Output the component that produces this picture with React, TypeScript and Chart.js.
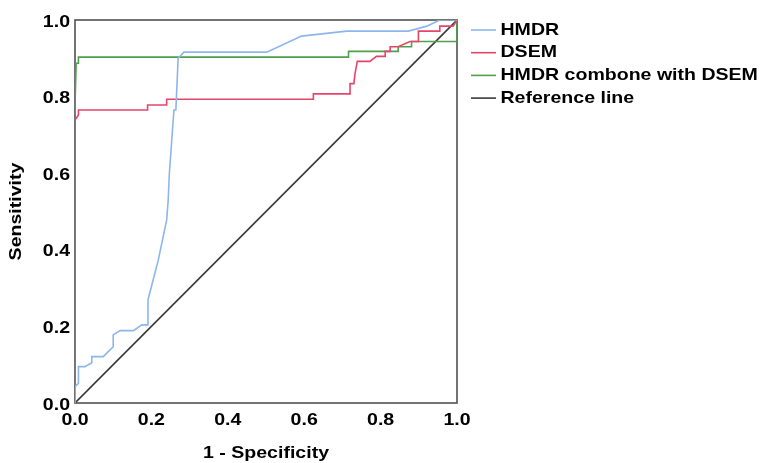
import React, { useEffect, useRef } from "react";
import { Chart, registerables } from "chart.js";

Chart.register(...registerables);

// ---- data ----
const seriesLabels = ["HMDR", "DSEM", "HMDR combone with DSEM", "Reference line"];
const seriesColors = ["#8db6ee", "#e6456a", "#4f9f4f", "#3a3a3a"];

const hmdrX = [0, 0, 0.009, 0.009, 0.026, 0.044, 0.044, 0.074, 0.087, 0.1, 0.1, 0.118, 0.153, 0.175, 0.19, 0.191, 0.218, 0.24, 0.244, 0.247, 0.259, 0.264, 0.27, 0.285, 0.502, 0.593, 0.711, 0.873, 0.921, 0.955, 1];
const hmdrY = [0, 0.043, 0.051, 0.095, 0.095, 0.105, 0.121, 0.121, 0.134, 0.147, 0.178, 0.189, 0.189, 0.204, 0.204, 0.269, 0.373, 0.478, 0.53, 0.6, 0.765, 0.765, 0.9, 0.916, 0.916, 0.958, 0.971, 0.971, 0.984, 1, 1];

const dsemX = [0, 0, 0.009, 0.009, 0.19, 0.19, 0.24, 0.24, 0.624, 0.624, 0.72, 0.72, 0.73, 0.733, 0.739, 0.772, 0.789, 0.812, 0.812, 0.825, 0.825, 0.846, 0.877, 0.899, 0.899, 0.955, 0.955, 0.99, 1];
const dsemY = [0, 0.739, 0.752, 0.765, 0.765, 0.778, 0.778, 0.793, 0.793, 0.807, 0.807, 0.834, 0.834, 0.86, 0.892, 0.892, 0.905, 0.905, 0.918, 0.918, 0.93, 0.93, 0.944, 0.944, 0.971, 0.971, 0.984, 0.984, 1];

const comboX = [0, 0, 0.003, 0.009, 0.009, 0.716, 0.716, 0.846, 0.846, 0.881, 0.881, 1, 1];
const comboY = [0, 0.778, 0.887, 0.887, 0.903, 0.903, 0.918, 0.918, 0.93, 0.93, 0.944, 0.944, 1];

const refX = [0, 1];
const refY = [0, 1];

const tickValues = [0, 0.2, 0.4, 0.6, 0.8, 1.0];
const xTitle = "1 - Specificity";
const yTitle = "Sensitivity";

const FONT = '"Liberation Sans", Arial, sans-serif';
const FONT_SIZE = 17;
const STRETCH = 1.15; // glyphs in the reference are wider than Arial

const toPts = (xs: number[], ys: number[]) => xs.map((x, i) => ({ x, y: ys[i] }));

function drawText(ctx: CanvasRenderingContext2D, text: string, x: number, y: number, align: CanvasTextAlign, rotate = false) {
  ctx.save();
  ctx.translate(x, y);
  if (rotate) ctx.rotate(-Math.PI / 2);
  ctx.scale(STRETCH, 1);
  ctx.font = `bold ${FONT_SIZE}px ${FONT}`;
  ctx.fillStyle = "#000";
  ctx.textAlign = align;
  ctx.textBaseline = "middle";
  ctx.fillText(text, 0, 0);
  ctx.restore();
}

export default function App() {
  const ref = useRef<HTMLCanvasElement | null>(null);

  useEffect(() => {
    document.body.style.margin = "0";
    document.body.style.overflow = "hidden";
    const canvas = ref.current;
    if (!canvas) return;

    const allX = [hmdrX, dsemX, comboX, refX];
    const allY = [hmdrY, dsemY, comboY, refY];

    const framePlugin = {
      id: "frame",
      beforeDatasetsDraw(chart: any) {
        const { ctx, chartArea } = chart;
        ctx.save();
        ctx.strokeStyle = "#505050";
        ctx.lineWidth = 1.6;
        ctx.strokeRect(chartArea.left, chartArea.top, chartArea.right - chartArea.left, chartArea.bottom - chartArea.top);
        ctx.restore();
      },
    };

    const textPlugin = {
      id: "axisText",
      afterDraw(chart: any) {
        const ctx = chart.ctx as CanvasRenderingContext2D;
        const xs = chart.scales.x;
        const ys = chart.scales.y;
        const area = chart.chartArea;
        xs.ticks.forEach((t: any) => {
          drawText(ctx, Number(t.value).toFixed(1), xs.getPixelForValue(t.value), area.bottom + 17.5, "center");
        });
        ys.ticks.forEach((t: any) => {
          drawText(ctx, Number(t.value).toFixed(1), area.left - 5, ys.getPixelForValue(t.value) + 2, "right");
        });
        drawText(ctx, xTitle, (area.left + area.right) / 2, area.bottom + 50, "center");
        drawText(ctx, yTitle, 16.5, (area.top + area.bottom) / 2, "center", true);

        // legend
        chart.data.datasets.forEach((ds: any, i: number) => {
          const y = 30 + i * 22.7;
          ctx.save();
          ctx.strokeStyle = ds.borderColor;
          ctx.lineWidth = 1.6;
          ctx.beginPath();
          ctx.moveTo(471, y);
          ctx.lineTo(496, y);
          ctx.stroke();
          ctx.restore();
          drawText(ctx, ds.label, 500.5, y, "left");
        });
      },
    };

    const chart = new Chart(canvas, {
      type: "scatter",
      data: {
        datasets: seriesLabels.map((label, i) => ({
          label,
          data: toPts(allX[i], allY[i]),
          showLine: true,
          borderColor: seriesColors[i],
          backgroundColor: seriesColors[i],
          borderWidth: 1.6,
          pointRadius: 0,
          pointHoverRadius: 0,
          tension: 0,
        })),
      },
      options: {
        responsive: false,
        animation: false,
        devicePixelRatio: 1,
        layout: { padding: { left: 0, top: 20, right: 304, bottom: 0 } },
        plugins: {
          legend: { display: false },
          tooltip: { enabled: false },
        },
        scales: {
          x: {
            type: "linear",
            min: 0,
            max: 1,
            afterBuildTicks: (s: any) => {
              s.ticks = tickValues.map((v) => ({ value: v }));
            },
            afterFit: (s: any) => {
              s.height = 60;
            },
            grid: { display: false, drawTicks: false },
            border: { display: false },
            ticks: { display: false },
            title: { display: false },
          },
          y: {
            type: "linear",
            min: 0,
            max: 1,
            afterBuildTicks: (s: any) => {
              s.ticks = tickValues.map((v) => ({ value: v }));
            },
            afterFit: (s: any) => {
              s.width = 75;
            },
            grid: { display: false, drawTicks: false },
            border: { display: false },
            ticks: { display: false },
            title: { display: false },
          },
        },
      },
      plugins: [framePlugin, textPlugin],
    } as any);

    return () => chart.destroy();
  }, []);

  return (
    <canvas
      ref={ref}
      width={761}
      height={463}
      style={{ width: "761px", height: "463px", display: "block" }}
    />
  );
}
